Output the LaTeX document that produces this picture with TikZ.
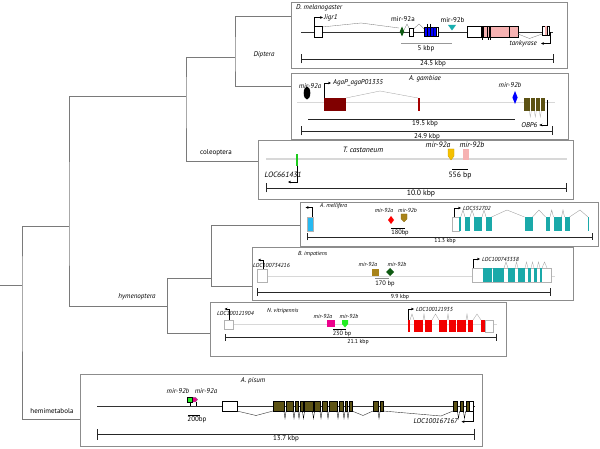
\documentclass[tikz,border=0pt]{standalone}
\usepackage{fontspec}
\setmainfont{PT Sans}
\usetikzlibrary{
  arrows.meta, % for the Stealth and Bar arrow tips
}
\definecolor{treegray}{HTML}{7A7A7A}
\definecolor{boxgray}{HTML}{8C8C8C}
\definecolor{bbgray}{HTML}{D8D8D8}
\definecolor{tealex}{HTML}{1AA9A9}
\definecolor{oliveex}{HTML}{5C5214}
\definecolor{pinkex}{HTML}{F6B2B2}
\definecolor{darkredex}{HTML}{800000}
\definecolor{mirgold}{HTML}{F5C000}
\definecolor{mirbrown}{HTML}{A8831A}
\definecolor{mirdkgreen}{HTML}{0E5A12}
\definecolor{mirgreen}{HTML}{22EE22}
\definecolor{mirteal}{HTML}{1AAFB0}
\tikzset{
  branch/.style={ % style for the tree branches
    draw=treegray,line width=0.6pt,
  },
  panel/.style={ % style for the frame round each locus
    rectangle,draw=boxgray,line width=0.6pt, % thin gray frame
    anchor=north west, % placed by its top left corner
    inner sep=0pt,outer sep=0pt,
  },
  darkbb/.style={ % dark genomic backbone
    draw=black!80,line width=0.6pt,
  },
  lightbb/.style={ % pale genomic backbone
    draw=bbgray,line width=0.9pt,
  },
  intron/.style={ % thin intron hats
    draw=black!50,line width=0.35pt,
  },
  exon/.style={ % open exon box
    draw=black,line width=0.35pt,fill=white,
  },
  paleexon/.style={ % open exon box with a pale frame
    draw=black!30,line width=0.4pt,fill=white,
  },
  genearr/.style={ % transcription start arrows
    -{Stealth[length=3pt,width=2.6pt]},
    line width=0.45pt,
  },
  scalebar/.style={ % scale bars with end bars
    {Bar[width=9pt]}-{Bar[width=9pt]},
    line width=0.6pt,draw=black!85,
  },
  lbl/.style={inner sep=0pt,font=\fontsize{7}{8}\selectfont}, % plain text
  ilbl/.style={inner sep=0pt,font=\fontsize{7}{8}\selectfont\itshape}, % italic text
  tlbl/.style={inner sep=0pt,font=\fontsize{7.7}{9}\selectfont}, % larger plain text
  tilbl/.style={inner sep=0pt,font=\fontsize{7.7}{9}\selectfont\itshape}, % larger italic text
  slbl/.style={inner sep=0pt,font=\fontsize{5.8}{7}\selectfont}, % small plain text
  silbl/.style={inner sep=0pt,font=\fontsize{5.8}{7}\selectfont\itshape}, % small italic text
}
\begin{document}
\begin{tikzpicture}[x=1pt,y=-1pt]
\useasboundingbox (0,0) rectangle (600,449);

% tree
\coordinate (stub) at (0,285);
\coordinate (insecta) at (22,285);
\coordinate (holo) at (69,226);
\coordinate (dipcol) at (186,96);
\coordinate (dip) at (235,57);
\coordinate (hym) at (167,306);
\coordinate (apibom) at (211,278);
\coordinate (dmelin) at (291,16);
\coordinate (agamin) at (291,86);
\coordinate (tcasin) at (258,161);
\coordinate (amelin) at (300,225);
\coordinate (bimpin) at (252,286);
\coordinate (nvitin) at (210,333);
\coordinate (apisin) at (80,419);

\draw[branch] (stub) -- (insecta);
\draw[branch] (holo) -| (insecta) |- (apisin);
\draw[branch] (dipcol) -| (holo) |- (hym);
\draw[branch] (dip) -| (dipcol) |- (tcasin);
\draw[branch] (dmelin) -| (dip) |- (agamin);
\draw[branch] (hym) |- (apibom) |- (amelin);
\draw[branch] (apibom) |- (bimpin);
\draw[branch] (hym) |- (nvitin);

\node[ilbl] (diptera) at (264,55) {Diptera};
\node[lbl] (coleo) at (216,153) {coleoptera};
\node[ilbl] (hymeno) at (137,297) {hymenoptera};
\node[lbl] (hemi) at (52,411) {hemimetabola};

% D. melanogaster
\node[panel,minimum width=276pt,minimum height=66pt] (dmelbox) at (291,2) {};
\node[ilbl,anchor=west] (dmelT) at (296,7.5) {D. melanogaster};
\draw[darkbb] (301,32) -- (553,32);
\draw[intron] (322,27) -- (361,23) -- (399,28);
\draw[intron] (404,30) -- (407,24) -- (409.5,29);
\draw[intron] (413.5,29) -- (419,24) -- (424,29);
\draw[exon] (314,26) rectangle (322,37.5);
\draw[genearr] (314.3,26) |- (323,17.5);
\node[ilbl,anchor=west] (jigr1) at (324,17.5) {Jigr1};
\fill[mirdkgreen] (402,26.5) -- (404.2,31.5) -- (402,36.5) -- (399.8,31.5) -- cycle;
\node[lbl] (dm92a) at (403,19.5) {mir-92a};
\draw[exon] (409.5,28) rectangle (413.5,36);
\draw[exon,fill=blue] (424,27.5) rectangle (436,36);
\draw[exon] (436,27.5) rectangle (438.5,36);
\draw[line width=0.6pt] (427.5,24) -- (427.5,36) (430.5,24) -- (430.5,36);
\draw[blue!40!black,line width=0.4pt] (433,27.5) -- (433,36);
\fill[mirteal] (448,25) -- (456,25) -- (452,30.5) -- cycle;
\node[lbl] (dm92b) at (452.5,20) {mir-92b};
\draw[black!40,line width=0.8pt] (401,43) -- (452,43);
\node[lbl] (dm5k) at (426,49) {5 kbp};
\draw[exon] (467,26) rectangle (481,37);
\draw[exon,fill=pinkex] (481,26) rectangle (518,37);
\fill (480.5,26) rectangle (483.5,37);
\draw[line width=0.4pt] (487,26) -- (487,37) (489,26) -- (489,37) (490.5,26) -- (490.5,37) (509.5,26) -- (509.5,37);
\draw[line width=0.4pt] (482,37) -- (482,40.5) (488,37) -- (488,40.5) (490,37) -- (490,40.5);
\draw[intron] (518,34) -- (529.5,38.5) -- (542,34);
\draw[exon] (542,26) rectangle (549,35);
\fill[pinkex] (545,26.3) rectangle (547.5,34.7);
\draw[line width=0.3pt] (547.5,26) -- (547.5,35);
\draw[genearr] (550,32) |- (541,43.5);
\node[ilbl,anchor=east] (tank) at (537,43.5) {tankyrase};
\draw[scalebar] (301,59) -- (554,59);
\node[lbl] (dm245) at (433,63.5) {24.5 kbp};

% A. gambiae
\node[panel,minimum width=277pt,minimum height=66pt] (agambox) at (291,73) {};
\node[ilbl] (agamT) at (425,78.5) {A. gambiae};
\draw[lightbb] (297,102) -- (555,102);
\fill (307,93) ellipse [x radius=3.3,y radius=6.5];
\node[ilbl] (ag92a) at (310,86) {mir-92a};
\draw[genearr] (324,98) |- (331,83);
\node[ilbl,anchor=west] (agap) at (333,83) {AgaP\_agaP01335};
\fill[darkredex] (324,98) rectangle (346,111);
\draw[intron,black!35] (346,98) -- (380,91) -- (418,98);
\fill[red!65!black] (418,98) rectangle (419.6,111);
\fill[blue] (515,91) -- (517.6,97.5) -- (515,104) -- (512.4,97.5) -- cycle;
\node[ilbl] (ag92b) at (510,85.5) {mir-92b};
\fill[oliveex] (524,98) rectangle (545,111);
\foreach \g in {529.8,534.8,539.8} \fill[white] (\g,98) rectangle (\g+1,111);
\foreach \g in {530.3,535.3,540.3} \draw[intron,black!30] (\g-1,111) -- (\g,117) -- (\g+1,111);
\draw[genearr,line width=0.35pt] (546.7,100) |- (539.3,125);
\node[ilbl,anchor=east] (obp6) at (537.5,125) {OBP6};
\draw[line width=0.6pt,black!85] (308,119) -- (515,119);
\node[lbl] (ag195) at (425,124) {19.5 kbp};
\draw[scalebar] (301,131) -- (553,131);
\node[lbl] (ag249) at (427,136.5) {24.9 kbp};

% T. castaneum
\node[panel,minimum width=315pt,minimum height=59pt] (tcasbox) at (258,140) {};
\node[tilbl] (tcasT) at (363,150) {T. castaneum};
\draw[lightbb,line width=1.2pt] (266,159) -- (567,159);
\fill[mirgreen!85!black] (295.5,154) rectangle (297.5,166);
\draw[genearr,line width=0.35pt] (297,166) |- (288,182);
\node[tilbl] (loc661) at (283,174.5) {LOC661431};
\filldraw[fill=mirgold,draw=mirgold!80!black,line width=0.3pt] (448,149) -- (454,149) -- (454,156) -- (451,160) -- (448,156) -- cycle;
\fill[pinkex] (463,149) rectangle (469,160);
\node[tilbl] (tc92a) at (438,145) {mir-92a};
\node[tilbl] (tc92b) at (472,145) {mir-92b};
\draw[line width=0.5pt] (452,169) -- (468,169);
\node[tlbl] (tc556) at (460,175.5) {556 bp};
\draw[scalebar] (266,188) -- (567,188);
\node[tlbl] (tc100) at (421,194) {10.0 kbp};

% A. mellifera
\node[panel,minimum width=298.5pt,minimum height=44pt] (amelbox) at (300,202) {};
\node[silbl,anchor=west] (amelT) at (320,206.5) {A. mellifera};
\draw[paleexon,fill=cyan!85] (307,217) rectangle (313,231);
\draw[genearr,line width=0.35pt] (312,217) |- (305.5,207.5);
\fill[red] (391,216) -- (394,220) -- (391,224) -- (388,220) -- cycle;
\filldraw[fill=mirbrown,draw=mirbrown!80!black,line width=0.3pt] (401,214) -- (407,214) -- (407,219) -- (404,222) -- (401,219) -- cycle;
\node[silbl] (am92a) at (384,210) {mir-92a};
\node[silbl] (am92b) at (407.5,210) {mir-92b};
\draw[line width=0.5pt] (391,228) -- (405,228);
\node[slbl,font=\fontsize{6.4}{7}\selectfont] (am180) at (400,232.5) {180bp};
\draw[genearr,line width=0.35pt] (454,217) |- (461,208);
\node[silbl,anchor=west] (loc552) at (463,208) {LOC552702};
\foreach \a/\m/\b in {460.7/463/465,470/472/474.3,482/484/486,491.5/507/524.5,532.5/539/545.5,550/551.7/553.5,561.5/563/564.5,569.5/580/588}
  \draw[intron,black!40] (\a,217) -- (\m,210) -- (\b,217);
\draw[paleexon] (452,217) rectangle (459.3,231);
\foreach \a/\b in {459.3/460.7,465/470,474.3/482,486/491.5,524.5/532.5,545.5/550,553.5/561.5,564.5/569.5,588/589}
  \fill[tealex] (\a,217) rectangle (\b,231);
\draw[scalebar,{Bar[width=7pt]}-{Bar[width=7pt]}] (307,237) -- (593,237);
\node[slbl] (am113) at (445,241.5) {11.3 kbp};

% B. impatiens
\node[panel,minimum width=321pt,minimum height=53pt] (bimpbox) at (252,247) {};
\node[silbl,anchor=west] (bimpT) at (298,254) {B. impatiens};
\draw[lightbb] (267,276) -- (555,276);
\draw[paleexon] (257,269) rectangle (267,282);
\draw[genearr,line width=0.35pt] (263,269) |- (258,260);
\node[silbl,anchor=west] (loc7342) at (253,265.5) {LOC100734216};
\fill[mirbrown] (372,269) rectangle (379,276);
\fill[mirdkgreen] (390,268) -- (394,272) -- (390,276) -- (386,272) -- cycle;
\node[silbl] (bi92a) at (368,264) {mir-92a};
\node[silbl] (bi92b) at (397,264) {mir-92b};
\draw[black!45,line width=0.6pt] (375,278) -- (389,278);
\node[slbl,font=\fontsize{6.5}{7}\selectfont] (bi170) at (385,283.5) {170 bp};
\draw[genearr,line width=0.35pt] (473,269) |- (480,259);
\node[silbl,anchor=west] (loc7433) at (482,259) {LOC100743338};
\draw[paleexon] (472,268) rectangle (551,282);
\foreach \a/\m/\b in {504/506/508,515/516.5/518,525/526.5/528,531/532.5/534,537/538.5/540,542/544.5/547}
  \draw[intron,black!35] (\a,268) -- (\m,262) -- (\b,268);
\foreach \a/\b in {483/492.3,493/504,508/515,518/525,528/531,534/537,540/542}
  \fill[tealex] (\a,268.3) rectangle (\b,281.7);
\draw[scalebar,{Bar[width=7pt]}-{Bar[width=7pt]}] (257,292) -- (551,292);
\node[slbl] (bi99) at (400,297) {9.9 kbp};

% N. vitripennis
\node[panel,minimum width=296pt,minimum height=54pt] (nvitbox) at (210,302) {};
\node[silbl,anchor=west] (nvitT) at (267,311) {N. vitripennis};
\draw[lightbb] (233,324) -- (497,324);
\draw[paleexon] (224,320) rectangle (233,329);
\draw[genearr,line width=0.35pt] (229,320) |- (224.5,309);
\node[silbl,anchor=west] (loc1219) at (217,313) {LOC100121904};
\fill[magenta] (327,320) rectangle (335,327);
\fill[mirgreen] (342,320) -- (348,320) -- (348,324) -- (345,327.5) -- (342,324) -- cycle;
\node[silbl] (nv92a) at (323,316) {mir-92a};
\node[silbl] (nv92b) at (349,316) {mir-92b};
\draw[line width=0.5pt] (333,329) -- (346,329);
\node[slbl,font=\fontsize{6.2}{7}\selectfont] (nv230) at (342,333.5) {230 bp};
\draw[genearr,line width=0.35pt] (408,320) |- (414,309);
\node[silbl,anchor=west] (loc1219b) at (416,309) {LOC100121935};
\foreach \a/\m/\b in {410/412/414,423/424/425,432/435.5/439,447/448/449,466/467/468,473/477/481}
  \draw[intron,black!35] (\a,320) -- (\m,314) -- (\b,320);
\draw[paleexon] (485,320) rectangle (493,332);
\foreach \a/\b in {408/410,414/423,425/432,439/447,449/456,457/466,468/473,481/485}
  \fill[red!95!black] (\a,320) rectangle (\b,332);
\draw[scalebar,{Bar[width=7pt]}-{Bar[width=7pt]}] (225,337) -- (497,337);
\node[slbl] (nv211) at (358,342) {21.1 kbp};

% A. pisum
\node[panel,minimum width=402pt,minimum height=72pt] (apisbox) at (80,374) {};
\node[ilbl] (apisT) at (253,381) {A. pisum};
\draw[darkbb] (97,406) -- (475,406);
\draw[line width=0.4pt] (190,402) -- (190,406) (195.7,402) -- (195.7,406);
\filldraw[fill=mirgreen,draw=black,line width=0.3pt] (187,397) rectangle (192,402);
\filldraw[fill=magenta,draw=black!60,line width=0.2pt] (193,397.3) -- (195.5,397.3) -- (197.7,399.6) -- (195.5,401.9) -- (193,401.9) -- cycle;
\node[ilbl] (ap92b) at (178,391) {mir-92b};
\node[ilbl] (ap92a) at (206,391) {mir-92a};
\draw[line width=0.4pt] (188,415) -- (200,415);
\node[lbl] (ap200) at (197,419.5) {200bp};
\draw[exon] (222,401) rectangle (237,411);
\draw[darkbb,line width=0.4pt] (237,411) -- (256,415.5) -- (273,411);
\draw[darkbb,line width=0.4pt] (352,411) -- (363,415.5) -- (373,411);
\draw[darkbb,line width=0.4pt] (383,411) -- (441,416) -- (453,411);
\foreach \c in {285,294,299,303.5,313.5,321,328,338,344,348,379,458.5,464.5}
  \draw[line width=0.35pt] (\c-1.1,411) -- (\c,418.5) -- (\c+1.1,411);
\foreach \a/\b in {273/284,286/293,295/298,300/303,304/313,314/320,322/327,329/337,339/343,345/347,349/352,373/378,380/383,453/457,460/463,466/469}
  \draw[exon,fill=oliveex] (\a,401) rectangle (\b,411);
\draw[exon] (469,401) rectangle (473,411);
\draw[genearr] (473.3,411) |- (461.5,421.7);
\node[ilbl,anchor=east] (loc1671) at (458,421.5) {LOC100167167};
\draw[scalebar,{Bar[width=11pt]}-{Bar[width=11pt]}] (97,434) -- (475,434);
\node[lbl] (ap137) at (286,438.5) {13.7 kbp};
\end{tikzpicture}
\end{document}
